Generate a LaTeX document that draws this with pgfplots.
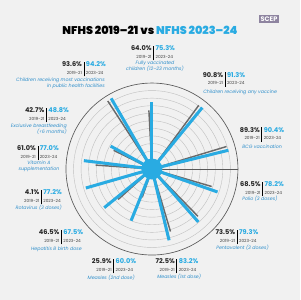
\documentclass[border=0pt]{standalone}
\usepackage{pgfplots}
\pgfplotsset{compat=1.18}
\usepackage{pgfplotstable}
\usepgfplotslibrary{polar}
\usepackage{fontspec}
\setmainfont{Poppins}
\IfFontExistsTF{Poppins Black}{\newfontfamily\titlefont{Poppins Black}}{\newfontfamily\titlefont{Poppins}[UprightFont=*-Bold]}
\definecolor{nblue}{HTML}{29ABE2}
\definecolor{lblue}{HTML}{2F8FCB}
\definecolor{bgcol}{HTML}{F1F1F1}
\definecolor{oldgray}{HTML}{6A6A6A}
\definecolor{logop}{HTML}{8E84A0}
\pgfplotstableread{
angle old new
90 64.0 75.3
50.7 90.8 91.3
13.8 89.3 90.4
-19.3 68.5 78.2
-48.8 73.5 79.3
-76.5 72.5 83.2
-112 25.9 60.0
-141 46.5 67.5
-164 4.1 77.2
173 61.0 77.0
151 42.7 48.8
120 93.6 94.2
}\data
\newcommand{\vb}[2]{{\fontsize{5}{5.6}\selectfont\renewcommand{\arraystretch}{1.0}\setlength{\tabcolsep}{1.3pt}\setlength{\arrayrulewidth}{0.45pt}%
\begin{tabular}{@{}r|l@{}}\bfseries\color{black!85}#1 & \bfseries\color{nblue}#2\\
\fontsize{3.2}{3.6}\selectfont\color{black!75}2019-21 & \fontsize{3.2}{3.6}\selectfont\color{black!75}2023-24\end{tabular}}}
\tikzset{lab/.style={font=\fontsize{3.6}{4.6}\selectfont\itshape, text=lblue, inner sep=0pt}}
\begin{document}
\begin{tikzpicture}[x=0.026667cm,y=0.026667cm]
\fill[bgcol] (0,0) rectangle (300,300);
\begin{polaraxis}[at={(4.0533cm,3.4933cm)}, anchor=center, scale only axis, width=4.587cm, height=4.587cm,
  ymin=0, ymax=113.75, xtick=\empty, ytick={23.75,33.75,43.75,53.75,63.75,73.75,83.75,93.75,103.75},
  yticklabels={}, ytick style={draw=none}, ymajorgrids, major grid style={black!25, line width=0.3pt},
  axis line style={black!65, line width=0.5pt}, clip=false]
\pgfplotsinvokeforeach{0,...,11}{
  \pgfplotstablegetelem{#1}{angle}\of\data \let\ang\pgfplotsretval
  \pgfplotstablegetelem{#1}{old}\of\data \let\ov\pgfplotsretval
  \pgfmathsetmacro\ro{\ov+13.75}
  \pgfmathsetmacro\ag{\ang+3}
  \edef\tmp{\noexpand\addplot[draw=oldgray, line width=1.1pt, mark=none] coordinates {(\ag,0) (\ag,\ro)};}
  \tmp
}
\pgfplotsinvokeforeach{0,...,11}{
  \pgfplotstablegetelem{#1}{angle}\of\data \let\ang\pgfplotsretval
  \pgfplotstablegetelem{#1}{new}\of\data \let\nv\pgfplotsretval
  \pgfmathsetmacro\rn{\nv+13.75}
  \edef\tmp{\noexpand\addplot[draw=nblue, line width=2.3pt, mark=none] coordinates {(\ang,0) (\ang,\rn)};}
  \tmp
}
\fill[nblue] (axis cs:0,0) circle[radius=0.28cm];
\end{polaraxis}
% title
\node[font=\titlefont\fontsize{8.5}{9}\selectfont, inner sep=0pt] at (150,270) {NFHS 2019–21 {\color{black}vs} {\color{nblue}NFHS 2023–24}};
\node[fill=logop, text=white, font=\bfseries\fontsize{5}{5}\selectfont, inner sep=1pt] at (269,281) {SCEP};
% labels
\node at (153,247) {\vb{64.0\%}{75.3\%}};
\node[lab, align=center] at (155,233.5) {Fully vaccinated\\children (12–23 months)};
\node at (224,220.5) {\vb{90.8\%}{91.3\%}};
\node[lab, anchor=west] at (203,208) {Children receiving any vaccine};
\node at (262,165.5) {\vb{89.3\%}{90.4\%}};
\node[lab, anchor=west] at (242,153) {BCG vaccination};
\node at (262,111) {\vb{68.5\%}{78.2\%}};
\node[lab, anchor=west] at (242,101) {Polio (3 doses)};
\node at (237,63) {\vb{73.5\%}{79.3\%}};
\node[lab, anchor=west] at (216,52) {Pentavalent (3 doses)};
\node at (177,34) {\vb{72.5\%}{83.2\%}};
\node[lab, anchor=west] at (157,23) {Measles (1st dose)};
\node at (114,34) {\vb{25.9\%}{60.0\%}};
\node[lab, anchor=east] at (135,22) {Measles (2nd dose)};
\node at (61,63) {\vb{46.5\%}{67.5\%}};
\node[lab, anchor=east] at (82,51) {Hepatitis B birth dose};
\node at (43,103) {\vb{4.1\%}{77.2\%}};
\node[lab, anchor=east] at (62,92) {Rotavirus (3 doses)};
\node at (38,147) {\vb{61.0\%}{77.0\%}};
\node[lab, align=center] at (39,133.5) {Vitamin A\\supplementation};
\node at (47,185) {\vb{42.7\%}{48.8\%}};
\node[lab, align=right, anchor=east] at (67,171) {Exclusive breastfeeding\\(<6 months)};
\node at (84,231) {\vb{93.6\%}{94.2\%}};
\node[lab, align=right, anchor=east] at (105,216.5) {Children receiving most vaccinations\\in public health facilities};
\end{tikzpicture}
\end{document}
